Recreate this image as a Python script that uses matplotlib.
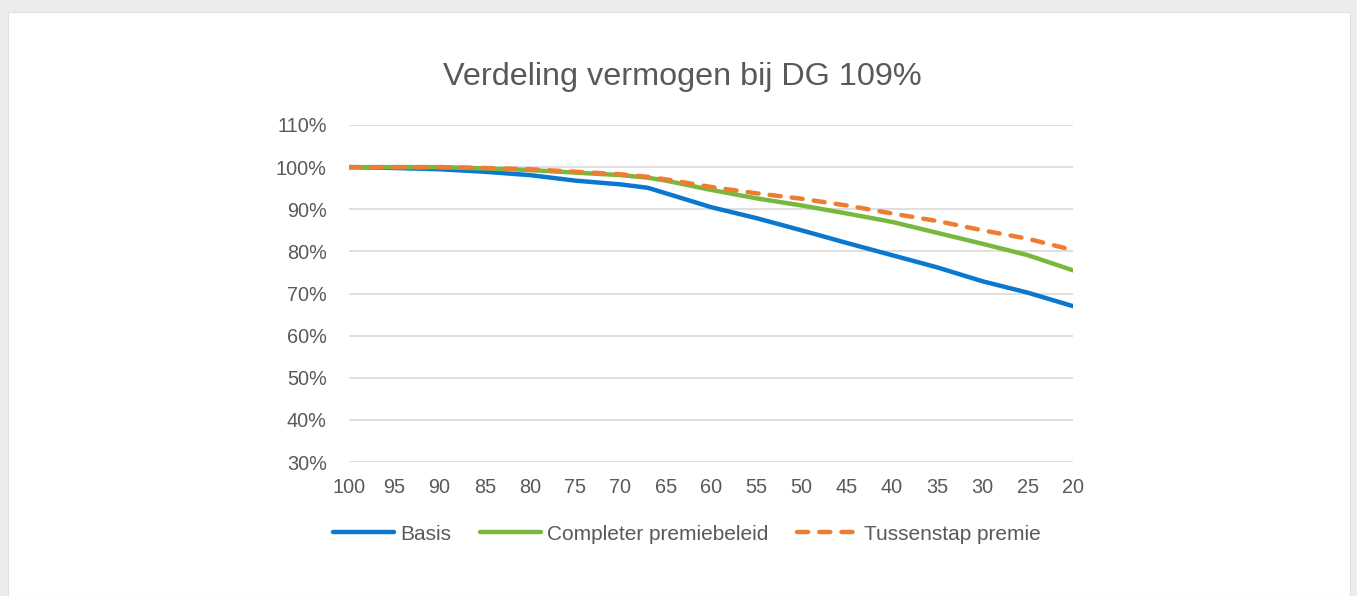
import numpy as np
import matplotlib.pyplot as plt
from matplotlib.patches import Rectangle

plt.rcParams['font.family'] = ['Liberation Sans', 'DejaVu Sans']

# --- data ---
leeftijd = [100, 95, 90, 85, 80, 75, 70, 67, 65, 60, 55, 50, 45, 40, 35, 30, 25, 20]
basis = [100.0, 99.8, 99.5, 98.9, 98.1, 96.8, 95.9, 95.1, 93.8, 90.5, 87.9, 85.0, 82.0, 79.1, 76.2, 72.9, 70.2, 67.0]
completer = [100.0, 100.0, 100.0, 99.7, 99.3, 98.7, 98.1, 97.5, 96.8, 94.6, 92.6, 90.9, 89.0, 87.0, 84.4, 81.8, 79.1, 75.5]
tussenstap = [100.0, 100.0, 100.0, 99.8, 99.5, 98.9, 98.3, 97.7, 97.1, 95.3, 93.8, 92.5, 90.9, 89.0, 87.2, 85.0, 83.0, 80.3]

x_ticks = list(range(100, 15, -5))
y_ticks = list(range(30, 111, 10))

TXT = '#595959'

fig = plt.figure(figsize=(13.57, 5.96), dpi=100)
fig.patch.set_facecolor('#ececec')
# white "card" with the chart on it
fig.patches.append(Rectangle((8 / 1357, 0), 1342 / 1357, 584 / 596, transform=fig.transFigure,
                             facecolor='white', edgecolor='#e0e0e0', lw=0.8, zorder=-10))

ax = fig.add_axes([349 / 1357, 1 - 462 / 596, (1073 - 349) / 1357, (462 - 125) / 596])
ax.set_facecolor('none')

ax.plot(leeftijd, basis, color='#0a78cf', lw=3.2, solid_capstyle='round', label='Basis', zorder=3)
ax.plot(leeftijd, completer, color='#79b83e', lw=3.2, solid_capstyle='round',
        label='Completer premiebeleid', zorder=4)
ax.plot(leeftijd, tussenstap, color='#ed7d31', lw=3.2, dashes=(2.5, 2.5), dash_capstyle='round',
        label='Tussenstap premie', zorder=5)

ax.set_xlim(100, 20)
ax.set_ylim(30, 110)
ax.set_xticks(x_ticks)
ax.set_yticks(y_ticks)
ax.set_yticklabels([f'{v}%' for v in y_ticks])
ax.grid(axis='y', color='#d9d9d9', lw=1.2)
ax.set_axisbelow(True)
for s in ax.spines.values():
    s.set_visible(False)
ax.tick_params(length=0, labelsize=14.3, colors=TXT)
ax.tick_params(axis='x', pad=11.5)
ax.tick_params(axis='y', pad=16)

fig.text(682 / 1357, 1 - 77 / 596, 'Verdeling vermogen bij DG 109%', ha='center', va='center',
         fontsize=23.3, color=TXT)

fig.legend(loc='center', bbox_to_anchor=(687 / 1357, 1 - 534 / 596), ncol=3, frameon=False,
           fontsize=15, labelcolor=TXT, handlelength=2.9, handletextpad=0.3,
           columnspacing=1.4)

fig.savefig('out.png', dpi=100, facecolor=fig.get_facecolor())
